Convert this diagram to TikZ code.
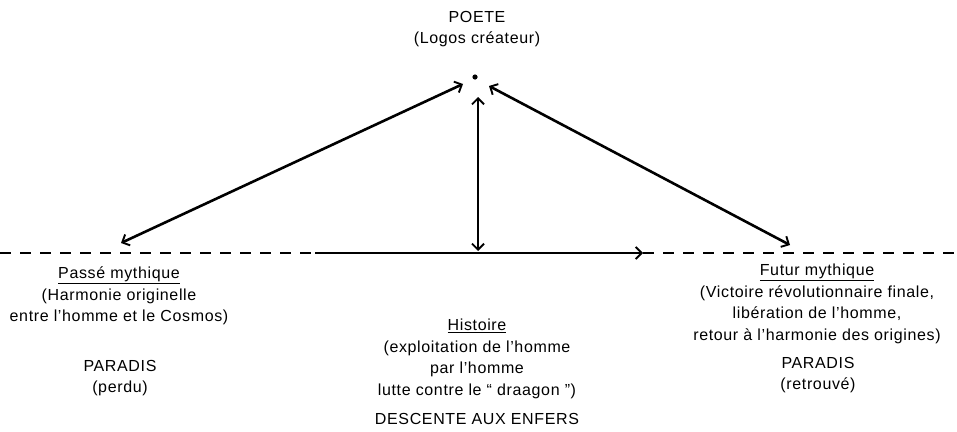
\documentclass[tikz,border=0pt]{standalone}
\usepackage{fontspec}
\setmainfont[LetterSpace=4]{Liberation Sans}
\usetikzlibrary{arrows.meta}
\begin{document}
\begin{tikzpicture}[x=1pt,y=-1pt,
  txt/.style={align=center,inner sep=0pt,font=\fontsize{16}{21.5}\selectfont},
  ln/.style={line width=2.6pt},
  dash line/.style={line width=2.6pt,dash pattern=on 11pt off 9pt},
  tip/.style={-{Straight Barb[length=6pt,width=12pt,line width=1.9pt]}},
  both tip/.style={{Straight Barb[length=6pt,width=12pt,line width=1.9pt]}-{Straight Barb[length=6pt,width=12pt,line width=1.9pt]}}
]
\useasboundingbox (0,0) rectangle (957,431);
% top
\node[txt] (poete) at (477,29) {POETE\\(Logos créateur)};
\fill (475,77) circle (2.6pt);
\coordinate (dot) at (475,77);
\coordinate (tl) at (463,84);
\coordinate (tr) at (489,86);
\coordinate (tv) at (478,97);
\coordinate (bl) at (121,243);
\coordinate (br) at (790,245);
\coordinate (bv) at (478,251);
% horizontal
\coordinate (h0) at (0,253);
\coordinate (h1) at (315,253);
\coordinate (h2) at (643,253);
\coordinate (h3) at (957,253);
\draw[dash line] (h0) -- (h1);
\draw[ln,tip] (h1) -- (h2);
\draw[dash line] (h2) -- (h3);
% connectors
\draw[ln,both tip] (bl) -- (tl);
\draw[ln,both tip] (br) -- (tr);
\draw[ln,both tip] (bv) -- (tv);
% texts
\node[txt] (passe) at (119,296) {\underline{Passé mythique}\\(Harmonie originelle\\entre l’homme et le Cosmos)};
\node[txt] (par1) at (120,378) {PARADIS\\(perdu)};
\node[txt] (hist) at (477,359) {\underline{Histoire}\\(exploitation de l’homme\\par l’homme\\lutte contre le “ draagon ”)};
\node[txt] (desc) at (477,419) {DESCENTE AUX ENFERS};
\node[txt] (futur) at (817,304) {\underline{Futur mythique}\\(Victoire révolutionnaire finale,\\libération de l’homme,\\retour à l’harmonie des origines)};
\node[txt] (par2) at (818,375) {PARADIS\\(retrouvé)};
\end{tikzpicture}
\end{document}
